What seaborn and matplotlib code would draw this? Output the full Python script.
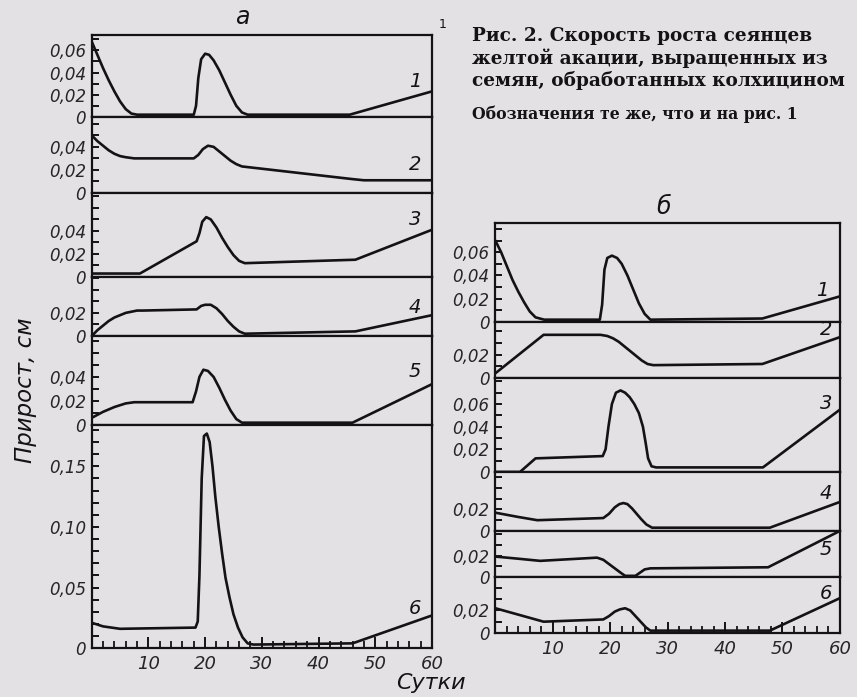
import matplotlib
matplotlib.use("Agg")
import matplotlib.pyplot as plt
from matplotlib.ticker import MultipleLocator, FixedLocator, FuncFormatter
import seaborn as sns

# ---- данные (сутки, прирост в см) ----
# панель а
a1_x = [0, 1, 2, 3, 4, 5, 6, 7, 8, 18, 18.4, 18.8, 19.3, 20, 20.7, 21.5, 22.5, 23.5, 24.5, 25.5, 26.5, 27.5, 45.5, 60]
a1_y = [0.068, 0.056, 0.044, 0.033, 0.023, 0.014, 0.007, 0.003, 0.002, 0.002, 0.010, 0.035, 0.052, 0.057, 0.056,
        0.051, 0.042, 0.031, 0.020, 0.010, 0.004, 0.002, 0.002, 0.023]
a2_x = [0, 1, 2, 3, 4, 5, 6, 7.5, 18, 18.8, 19.6, 20.5, 21.5, 22.5, 23.5, 24.5, 25.5, 26.5, 46, 48, 60]
a2_y = [0.050, 0.045, 0.041, 0.037, 0.034, 0.032, 0.031, 0.030, 0.030, 0.033, 0.038, 0.041, 0.040, 0.036, 0.032,
        0.028, 0.025, 0.023, 0.012, 0.011, 0.011]
a3_x = [0, 8.5, 18.5, 19.0, 19.5, 20.2, 21, 22, 23, 24, 25, 26, 27, 46.5, 60]
a3_y = [0.003, 0.003, 0.031, 0.038, 0.048, 0.052, 0.050, 0.043, 0.034, 0.026, 0.019, 0.014, 0.012, 0.015, 0.041]
a4_x = [0, 1, 2, 3, 4, 5, 6, 7, 8, 9, 18.5, 19.3, 20, 21, 22, 23, 24, 25, 26, 27, 46.5, 60]
a4_y = [0.0, 0.005, 0.009, 0.013, 0.016, 0.018, 0.020, 0.021, 0.022, 0.022, 0.023, 0.026, 0.027, 0.027, 0.024,
        0.019, 0.013, 0.008, 0.004, 0.002, 0.004, 0.018]
a5_x = [0, 2, 4, 6, 7.5, 17.8, 18.4, 19, 19.7, 20.5, 21.5, 22.5, 23.5, 24.5, 25.5, 26.5, 46, 60]
a5_y = [0.006, 0.011, 0.015, 0.018, 0.019, 0.019, 0.028, 0.040, 0.046, 0.045, 0.040, 0.031, 0.021, 0.012, 0.005,
        0.002, 0.002, 0.034]
a6_x = [0, 2, 5, 18.3, 18.7, 19.0, 19.4, 19.8, 20.3, 20.8, 21.3, 21.8, 22.4, 23.0, 23.6, 24.3, 25.0, 25.8, 26.6,
        27.5, 28.5, 46, 60]
a6_y = [0.021, 0.018, 0.016, 0.017, 0.022, 0.060, 0.140, 0.175, 0.177, 0.170, 0.150, 0.125, 0.100, 0.078, 0.058,
        0.042, 0.028, 0.017, 0.009, 0.004, 0.003, 0.004, 0.027]

# панель б
b1_x = [0, 1, 2, 3, 4, 5, 6, 7, 8.5, 18.2, 18.6, 19.0, 19.5, 20.3, 21.2, 22.0, 23.0, 24.0, 25.0, 26.0, 27.0, 46.5, 60]
b1_y = [0.070, 0.060, 0.048, 0.036, 0.026, 0.017, 0.009, 0.004, 0.002, 0.002, 0.015, 0.045, 0.055, 0.057, 0.055,
        0.050, 0.040, 0.028, 0.016, 0.007, 0.002, 0.003, 0.022]
b2_x = [0, 8.4, 18.3, 19.5, 20.5, 21.5, 22.5, 23.5, 24.5, 25.5, 26.5, 27.5, 46.5, 60]
b2_y = [0.004, 0.037, 0.037, 0.036, 0.034, 0.031, 0.027, 0.023, 0.019, 0.015, 0.012, 0.011, 0.012, 0.035]
b3_x = [0, 4.3, 7.0, 18.7, 19.2, 19.7, 20.3, 21.0, 21.8, 22.6, 23.4, 24.2, 25.0, 25.7, 26.2, 26.6, 27.2, 28,
        46.6, 60]
b3_y = [0.0, 0.0, 0.012, 0.014, 0.020, 0.040, 0.060, 0.070, 0.072, 0.070, 0.066, 0.060, 0.052, 0.040, 0.025,
        0.012, 0.005, 0.004, 0.004, 0.055]
b4_x = [0, 4, 7.3, 18.8, 19.8, 20.8, 21.6, 22.3, 23.0, 23.8, 24.6, 25.4, 26.3, 27.3, 47.8, 60]
b4_y = [0.017, 0.013, 0.010, 0.012, 0.016, 0.022, 0.025, 0.026, 0.025, 0.021, 0.016, 0.011, 0.006, 0.003, 0.003,
        0.027]
b5_x = [0, 4, 7.8, 17.7, 18.8, 19.8, 20.8, 21.8, 22.6, 24.4, 25.2, 26.0, 27.0, 47.5, 60]
b5_y = [0.019, 0.017, 0.015, 0.018, 0.016, 0.012, 0.008, 0.004, 0.001, 0.001, 0.004, 0.007, 0.008, 0.009, 0.043]
b6_x = [0, 8.4, 18.8, 19.8, 20.8, 21.7, 22.6, 23.5, 24.4, 25.3, 26.2, 27.0, 47.8, 60]
b6_y = [0.022, 0.010, 0.012, 0.015, 0.019, 0.021, 0.022, 0.020, 0.015, 0.010, 0.005, 0.002, 0.002, 0.031]

a_ylims = [0.074, 0.066, 0.073, 0.051, 0.074, 0.184]
a_yticks = [[0, 0.02, 0.04, 0.06], [0, 0.02, 0.04], [0, 0.02, 0.04], [0, 0.02], [0, 0.02, 0.04],
            [0, 0.05, 0.10, 0.15]]
b_ylims = [0.085, 0.048, 0.083, 0.055, 0.043, 0.050]
b_yticks = [[0, 0.02, 0.04, 0.06], [0, 0.02], [0, 0.02, 0.04, 0.06], [0, 0.02], [0, 0.02], [0, 0.02]]
xticks = [10, 20, 30, 40, 50, 60]
curve_names = ["1", "2", "3", "4", "5", "6"]

a_curves = [(a1_x, a1_y), (a2_x, a2_y), (a3_x, a3_y), (a4_x, a4_y), (a5_x, a5_y), (a6_x, a6_y)]
b_curves = [(b1_x, b1_y), (b2_x, b2_y), (b3_x, b3_y), (b4_x, b4_y), (b5_x, b5_y), (b6_x, b6_y)]

# ---- оформление ----
paper = "#e4e1e5"
ink = "#141214"
sns.set_style("ticks")
plt.rcParams['font.family'] = ['DejaVu Sans']
plt.rcParams['axes.linewidth'] = 1.6

fig = plt.figure(figsize=(8.57, 6.97), dpi=100, facecolor=paper)


def comma(v, pos=None):
    if abs(v) < 1e-9:
        return "0"
    return f"{v:.2f}".replace(".", ",")


def draw_panel(curves, ylims, yticks, heights, box, num_pos):
    left, right, bottom, top = box
    gs = fig.add_gridspec(6, 1, left=left, right=right, bottom=bottom, top=top,
                          hspace=0, height_ratios=heights)
    axes = []
    for i, (xs, ys) in enumerate(curves):
        ax = fig.add_subplot(gs[i])
        ax.set_facecolor(paper)
        sns.lineplot(x=xs, y=ys, ax=ax, color=ink, lw=1.9, estimator=None)
        ax.set_xlim(0, 60)
        ax.set_ylim(0, ylims[i])
        for s in ax.spines.values():
            s.set_color(ink)
        ax.yaxis.set_major_locator(FixedLocator(yticks[i]))
        ax.yaxis.set_minor_locator(MultipleLocator(0.01))
        ax.yaxis.set_major_formatter(FuncFormatter(comma))
        ax.tick_params(axis="y", which="both", direction="in", length=5, width=1.4,
                       color=ink, labelsize=12, pad=4)
        for t in ax.get_yticklabels():
            t.set_style("italic")
        ax.set_xlabel("")
        ax.set_ylabel("")
        ax.text(num_pos[i][0], num_pos[i][1], curve_names[i], transform=ax.transAxes,
                fontsize=14, style="italic", color=ink, ha="center", va="center")
        if i < 5:
            ax.tick_params(axis="x", which="both", bottom=False, labelbottom=False)
        else:
            ax.xaxis.set_major_locator(FixedLocator(xticks))
            ax.xaxis.set_minor_locator(MultipleLocator(2))
            ax.tick_params(axis="x", which="major", direction="in", length=8, width=1.4,
                           color=ink, labelsize=13, pad=5)
            ax.tick_params(axis="x", which="minor", direction="in", length=5, width=1.3, color=ink)
            for t in ax.get_xticklabels():
                t.set_style("italic")
        axes.append(ax)
    return axes


a_heights = [82, 76, 84, 59, 89, 223]
b_heights = [99, 56, 94, 59, 46, 56]
a_num = [(0.95, 0.43), (0.95, 0.37), (0.95, 0.68), (0.95, 0.49), (0.95, 0.60), (0.95, 0.18)]
b_num = [(0.95, 0.32), (0.96, 0.86), (0.96, 0.73), (0.96, 0.64), (0.96, 0.59), (0.96, 0.71)]

draw_panel(a_curves, a_ylims, a_yticks, a_heights, (0.107, 0.504, 0.070, 0.950), a_num)
draw_panel(b_curves, b_ylims, b_yticks, b_heights, (0.578, 0.980, 0.092, 0.680), b_num)

# подписи
fig.text(0.283, 0.975, "а", fontsize=17, style="italic", color=ink, ha="center", va="center")
fig.text(0.774, 0.703, "б", fontsize=17, style="italic", color=ink, ha="center", va="center")
fig.text(0.030, 0.44, "Прирост, см", rotation=90, fontsize=16.5, style="italic", color=ink,
         ha="center", va="center")
fig.text(0.503, 0.020, "Сутки", fontsize=16, style="italic", color=ink, ha="center", va="center")
fig.text(0.517, 0.965, "1", fontsize=9, color=ink, ha="center", va="center")

cap_font = dict(family=["DejaVu Serif"], weight="bold", color=ink, ha="left", va="center")
fig.text(0.551, 0.948, "Рис. 2. Скорость роста сеянцев", fontsize=13.3, **cap_font)
fig.text(0.551, 0.916, "желтой акации, выращенных из", fontsize=13.3, **cap_font)
fig.text(0.551, 0.884, "семян, обработанных колхицином", fontsize=13.3, **cap_font)
fig.text(0.551, 0.836, "Обозначения те же, что и на рис. 1", fontsize=11.3, **cap_font)

fig.savefig("out.png", dpi=100, facecolor=paper)
